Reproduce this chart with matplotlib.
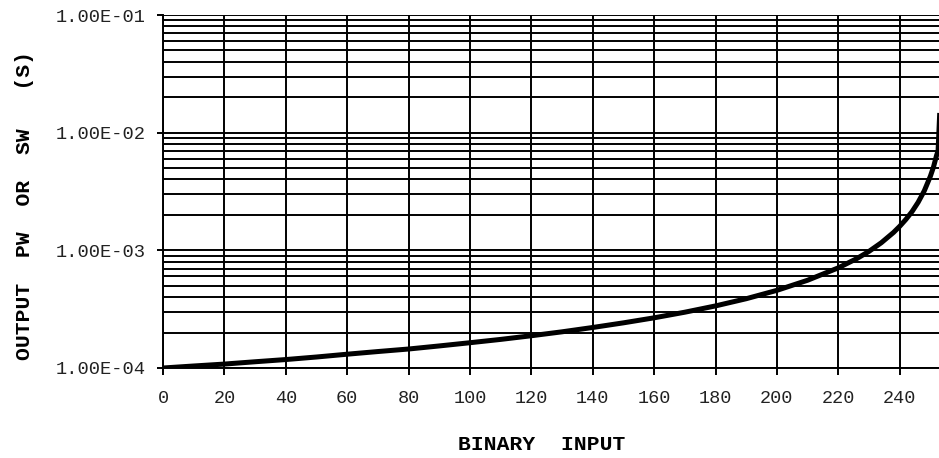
import numpy as np
import matplotlib
matplotlib.use("Agg")
from matplotlib import pyplot as plt
from matplotlib.ticker import FixedLocator, LogLocator, NullFormatter

# values (output in units of 1e-4 s)
binary_input = [0, 10, 20, 30, 40, 50, 60, 70, 80, 90, 100, 110, 120, 130, 140,
                150, 160, 170, 180, 190, 200, 210, 220, 226, 230, 234, 238, 240,
                242, 244, 246, 248, 250, 251, 252, 252.5, 253]
output_e4 = [1.00, 1.04, 1.08, 1.13, 1.18, 1.24, 1.31, 1.38, 1.45, 1.54, 1.64,
             1.75, 1.88, 2.03, 2.21, 2.42, 2.67, 2.98, 3.37, 3.88, 4.57, 5.57,
             7.1, 8.5, 9.8, 11.6, 14.2, 16.0, 18.3, 21.3, 25.6, 32.0, 42.7,
             51.0, 64.0, 70.0, 140.0]
x_ticks = [0, 20, 40, 60, 80, 100, 120, 140, 160, 180, 200, 220, 240]
y_ticks = [1e-4, 1e-3, 1e-2, 1e-1]
y_tick_labels = ["1.00E-04", "1.00E-03", "1.00E-02", "1.00E-01"]

mono = "Liberation Mono"

fig = plt.figure(figsize=(9.39, 4.58), dpi=100)
ax = fig.add_axes([163 / 939, 1 - 368 / 458, 1 - 163 / 939, (368 - 15) / 458])

y = np.array(output_e4) * 1e-4
ax.plot(binary_input, y, color="black", lw=3.6, solid_joinstyle="miter",
        zorder=3, clip_on=True)

ax.set_yscale("log")
ax.set_xlim(0, 252.8)
ax.set_ylim(1e-4, 1e-1)

ax.xaxis.set_major_locator(FixedLocator(x_ticks))
ax.yaxis.set_major_locator(FixedLocator(y_ticks))
ax.yaxis.set_minor_locator(LogLocator(base=10, subs=np.arange(2, 10)))
ax.yaxis.set_minor_formatter(NullFormatter())
ax.set_yticklabels(y_tick_labels)
ax.set_xticklabels([str(t) for t in x_ticks])

ax.grid(True, which="major", axis="both", color="black", lw=1.4)
ax.grid(True, which="minor", axis="y", color="black", lw=1.4)
ax.set_axisbelow(True)

ax.tick_params(axis="y", which="major", length=4.5, width=1.4, direction="out",
               pad=8, labelsize=13.5, labelcolor="#222222")
ax.tick_params(axis="y", which="minor", length=0)
ax.tick_params(axis="x", which="major", length=5, width=1.4, direction="out",
               pad=11, labelsize=13.3, labelcolor="#222222")
for lab in ax.get_xticklabels() + ax.get_yticklabels():
    lab.set_family(mono)

for s in ["right"]:
    ax.spines[s].set_visible(False)
ax.spines["top"].set_visible(False)
ax.spines["left"].set_linewidth(1.4)
ax.spines["bottom"].set_linewidth(1.4)

fig.text(542 / 939, 1 - 444 / 458, "BINARY  INPUT", family=mono,
         fontweight="bold", fontsize=15.4, ha="center", va="center")
fig.text(25 / 939, 1 - 206 / 458, "OUTPUT  PW  OR  SW   (S)", family=mono,
         fontweight="bold", fontsize=15.4, ha="center", va="center",
         rotation=90)

fig.savefig("out.png", dpi=100)
